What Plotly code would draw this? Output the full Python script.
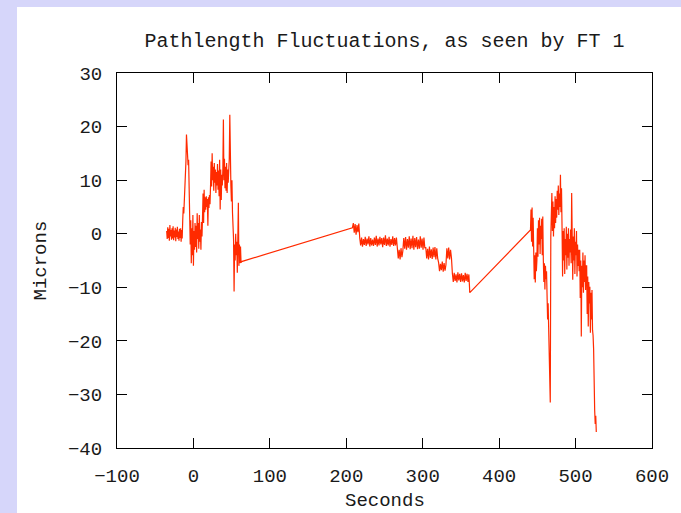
import numpy as np
import plotly.graph_objects as go

# Fringe-tracker pathlength record, three recorded stretches.
# Each stretch: start time (s), sample spacing (s), readings (microns).
seg1_start, seg1_dt = -35.0, 0.7
seg1_microns = [
    0.5, -1.0, 1.2, -0.8, 0.9, -1.3, 1.6, -0.5, 0.7, -1.1, 1.0, -0.9, 1.4, -1.2, 0.6,
    -0.7, 1.1, -1.4, 0.8, -0.6, 1.3, -1.0, 0.4, -1.3, 0.9, -0.8, 1.0, -1.5, 0.7, -0.9,
    2.5, 5.0, 3.8, 6.5, 5.6, 8.8,
    13.5, 18.5, 15.0,
    16.0, 12.8, 13.8,
    9.0, 5.0,
    -2.0, 2.5, -5.5, 1.0, -4.0, 3.5, -6.0, 0.5, -3.0, 2.0,
    -2.5, 1.5, -3.5, 3.8, -1.0, 2.0, -2.8, 3.5, -1.5, 0.8, -3.0, 2.2, -0.5,
    3.0, 7.5, 2.0, 8.2, 4.0, 6.8,
    4.5, 7.0, 5.0, 6.5, 1.5, 6.8, 4.8, 7.2, 5.5,
    9.0, 13.5, 8.8, 15.0, 10.0, 12.5,
    8.0, 13.2, 9.5, 12.0, 7.6, 11.5, 9.0, 13.0, 8.2, 11.8,
    7.0, 13.8, 4.5, 12.0, 6.3, 11.0, 9.0,
    12.0, 21.3, 10.0, 14.0, 8.5, 12.5,
    8.0, 13.2, 7.6, 12.0, 9.5, 11.0,
    14.0, 22.2, 11.0, 9.0,
    6.0, 10.0, 4.0, 1.0,
    -1.0, -10.8, -2.0, -5.0, 0.0, -4.0, -1.5,
    -7.3, -1.0, 5.8, -6.0, -2.0, -5.5,
    -2.4, -5.4, -5.2,
]

seg2_start, seg2_dt = 208.0, 1.2
seg2_microns = [
    1.1, 2.0, 0.2, 1.8, -0.2, 1.6, 0.3, 1.9,
    -0.8, -2.2, -0.7, -2.4, -1.0, -2.1, -0.6, -2.3, -0.9, -2.0, -0.5, -2.4, -0.8, -2.2,
    -1.1, -2.3, -0.7, -2.1, -0.4, -2.4, -0.9, -2.2, -0.6, -2.0, -0.8, -2.5, -0.7, -2.1,
    -0.3, -2.3, -0.9, -2.2, -0.6, -2.4, -1.0, -2.1, -0.5, -2.3, -0.8, -2.2, -0.7,
    -2.8, -4.6, -3.0, -4.8, -2.7, -4.4, -3.2,
    -0.8, -2.8, -0.6, -3.0, -1.0, -2.6, -0.5, -2.9, -0.9, -2.7, -0.4, -3.0, -0.8, -2.5,
    -0.6, -2.9, -1.1, -2.8, -0.5, -2.6, -0.9, -3.0, -0.7, -2.7,
    -2.5, -4.6, -2.8, -4.8, -2.4, -4.5, -2.9, -4.7, -2.6, -4.4, -2.5, -4.8, -2.7, -4.6,
    -5.4, -7.0, -5.6, -6.8, -5.2, -7.1, -5.5, -6.9, -5.8,
    -2.7, -4.6, -2.6, -4.8, -3.0, -4.5,
    -7.4, -9.0, -7.3, -8.8, -7.6, -9.1, -7.2, -8.7, -7.5, -9.0, -7.4, -8.9, -7.7, -9.1,
    -7.3, -8.8, -7.5, -9.0, -7.6,
    -11.0,
]

seg3_start, seg3_dt = 441.0, 0.7
seg3_microns = [
    0.7, 4.5, -1.5, 4.9, -2.4, 3.0,
    -3.0, -8.5, -4.0, -9.1, -3.5, -7.0, -5.0,
    1.0, -4.3, 2.5, -2.0, 3.0, -3.8, 1.5, -1.0, 2.8, -4.0, 3.2,
    -4.8, -9.0, -5.5, -10.4, -6.0, -8.5, -7.0,
    -12.3, -16.0, -13.0, -18.0,
    -17.3, -23.0, -31.5,
    -0.5, 3.0,
    7.6, 0.5, 6.0, -0.5, 5.0, 1.0, 7.0, 2.0, 6.5,
    3.0, 8.0, 4.5, 9.0, 3.5, 7.5, 5.0, 11.0, 4.0, 8.5,
    1.3, -8.0, 0.5, -5.0, 1.0, -7.5, -1.0, -4.0,
    1.3, -6.7, 0.0, -4.5, 1.0, -6.0, -1.0, -3.5, 0.8, -5.5,
    7.6,
    1.3, -8.6, -0.5, -5.0, 1.0, -7.5, -1.5, -4.0, 0.5, -8.0, -2.0, -6.0, -3.0, -7.0,
    -3.0, -12.0, -5.0, -19.2, -6.0, -10.0,
    -3.5, -11.0, -5.0, -9.0, -4.0, -10.5, -6.0,
    -6.0, -15.0, -8.0, -17.3, -9.0, -13.0,
    -9.9, -18.5, -11.0, -16.0, -10.5, -18.0,
    -19.0, -21.5, -32.3,
    -33.0, -35.5, -34.0, -37.0,
]

x_ticks = [-100, 0, 100, 200, 300, 400, 500, 600]
y_ticks = [-40, -30, -20, -10, 0, 10, 20, 30]

segments = [
    (seg1_start, seg1_dt, seg1_microns),
    (seg2_start, seg2_dt, seg2_microns),
    (seg3_start, seg3_dt, seg3_microns),
]
seconds = np.concatenate([s + dt * np.arange(len(v)) for s, dt, v in segments])
microns = np.concatenate([np.asarray(v, dtype=float) for _, _, v in segments])

FONT = "Liberation Mono, DejaVu Sans Mono, monospace"
INK = "#1a1a1a"

fig = go.Figure()
fig.add_trace(go.Scatter(
    x=seconds, y=microns, mode="lines",
    line=dict(color="#ff2a00", width=1.2),
    showlegend=False, hoverinfo="skip",
))

# white page inset on a lavender frame
fig.add_shape(type="rect", xref="paper", yref="paper",
              x0=(17 - 117) / 535, x1=(700 - 117) / 535,
              y0=(448 - 530) / 375, y1=(448 - 7) / 375,
              fillcolor="white", line_width=0, layer="below")

axis_common = dict(
    showline=True, linecolor="black", linewidth=1, mirror="ticks",
    ticks="inside", ticklen=10, tickwidth=1, tickcolor="black",
    showgrid=False, zeroline=False,
    tickfont=dict(family=FONT, size=19, color=INK),
    ticklabelstandoff=10,
)

fig.update_layout(
    width=681, height=513,
    margin=dict(l=117, r=29, t=73, b=65),
    paper_bgcolor="#d6d6fa", plot_bgcolor="white",
    title=dict(text="Pathlength Fluctuations, as seen by FT 1",
               font=dict(family=FONT, size=20, color=INK),
               x=0.5, xref="paper", xanchor="center",
               y=1 - 40 / 513, yref="container", yanchor="middle"),
    xaxis=dict(range=[-100, 600], tickvals=x_ticks, **axis_common),
    yaxis=dict(range=[-40, 30], tickvals=y_ticks, **axis_common),
    annotations=[
        dict(text="Seconds", xref="paper", yref="paper", x=0.5, y=(448 - 501) / 375,
             xanchor="center", yanchor="middle", showarrow=False,
             font=dict(family=FONT, size=19, color=INK)),
        dict(text="Microns", xref="paper", yref="paper", x=(40 - 117) / 535, y=0.5,
             xanchor="center", yanchor="middle", showarrow=False, textangle=-90,
             font=dict(family=FONT, size=19, color=INK)),
    ],
)

fig.write_html("out.html")
